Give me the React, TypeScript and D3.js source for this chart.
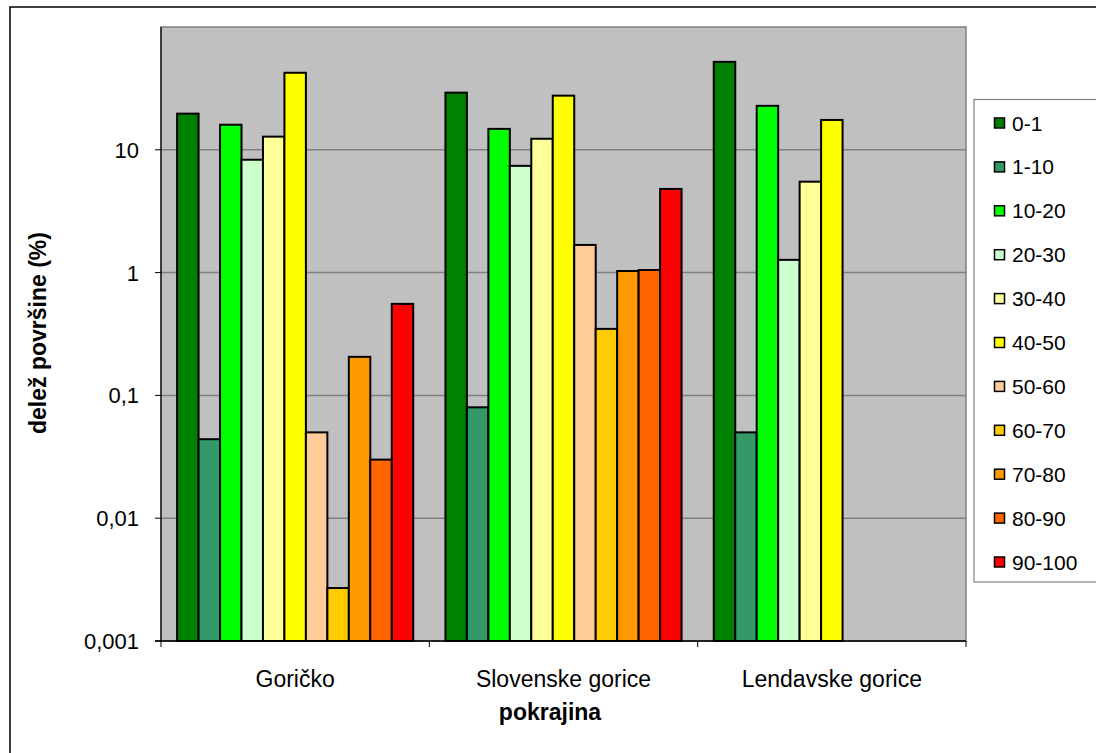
import React from "react";
import * as d3 from "d3";

const regions = ["Goričko", "Slovenske gorice", "Lendavske gorice"];
const classes = ["0-1", "1-10", "10-20", "20-30", "30-40", "40-50", "50-60", "60-70", "70-80", "80-90", "90-100"];
const colors = ["#008000", "#339966", "#00FF00", "#CCFFCC", "#FFFF99", "#FFFF00", "#FFCC99", "#FFCC00", "#FF9900", "#FF6600", "#FF0000"];

// share per class, one array per region (null = no bar)
const goricko = [19.7, 0.044, 16, 8.3, 12.8, 42.4, 0.05, 0.0027, 0.206, 0.03, 0.556];
const slovenske = [29.2, 0.08, 14.8, 7.4, 12.3, 27.6, 1.68, 0.348, 1.03, 1.05, 4.8];
const lendavske = [52, 0.05, 22.8, 1.27, 5.5, 17.5, null, null, null, null, null];

const yTicks = [0.001, 0.01, 0.1, 1, 10];
const yTickLabels = ["0,001", "0,01", "0,1", "1", "10"];

const W = 1096, H = 753;
const plot = { left: 161, top: 27, right: 966, bottom: 641 };
const FONT = "'Liberation Sans', Arial, sans-serif";

export default function App() {
  const values = [goricko, slovenske, lendavske];

  const x0 = d3.scaleBand().domain(regions).range([plot.left, plot.right]);
  const x1 = d3.scaleBand().domain(classes).range([0, x0.bandwidth()]).paddingInner(0).paddingOuter(0.75);
  const y = d3.scaleLog().domain([0.001, 100]).range([plot.bottom, plot.top]);
  const color = d3.scaleOrdinal<string, string>().domain(classes).range(colors);

  const boundaries = [...regions.map((r) => x0(r) as number), plot.right];

  const legendX = 974, legendTop = 99.5, legendBottom = 582;
  const rowY = (i: number) => 123 + i * 43.9;

  return (
    <svg width={W} height={H} style={{ position: "absolute", left: 0, top: 0, background: "#fff" }}>
      {/* outer chart frame */}
      <rect x={10} y={7} width={W} height={H} fill="#fff" stroke="#000" strokeWidth={1.5} />

      {/* plot area */}
      <rect x={plot.left} y={plot.top} width={plot.right - plot.left} height={plot.bottom - plot.top} fill="#C0C0C0" stroke="#808080" strokeWidth={1.5} />
      {yTicks.map((t) => (
        <line key={"g" + t} x1={plot.left} x2={plot.right} y1={y(t)} y2={y(t)} stroke="#808080" strokeWidth={1.5} />
      ))}

      {/* bars */}
      {regions.map((r, ri) => (
        <g key={r} transform={`translate(${x0(r)},0)`}>
          {classes.map((c, ci) => {
            const v = values[ri][ci];
            if (v == null) return null;
            return (
              <rect key={c} x={x1(c)} y={y(v)} width={x1.bandwidth()} height={plot.bottom - y(v)} fill={color(c)} stroke="#000" strokeWidth={2} />
            );
          })}
        </g>
      ))}

      {/* axes */}
      <line x1={plot.left} x2={plot.left} y1={plot.top} y2={plot.bottom} stroke="#000" strokeWidth={1.2} />
      <line x1={plot.left - 6} x2={plot.right} y1={plot.bottom} y2={plot.bottom} stroke="#000" strokeWidth={1.5} />
      {yTicks.map((t, i) => (
        <g key={"t" + t}>
          <line x1={plot.left - 6} x2={plot.left} y1={y(t)} y2={y(t)} stroke="#000" strokeWidth={1} />
          <text x={139} y={y(t)} dy="0.36em" textAnchor="end" fontFamily={FONT} fontSize={22}>
            {yTickLabels[i]}
          </text>
        </g>
      ))}
      {boundaries.map((b, i) => (
        <line key={"xb" + i} x1={b} x2={b} y1={plot.bottom} y2={plot.bottom + 6} stroke="#000" strokeWidth={1} />
      ))}
      {regions.map((r) => (
        <text key={"l" + r} x={(x0(r) as number) + x0.bandwidth() / 2} y={687} textAnchor="middle" fontFamily={FONT} fontSize={23}>
          {r}
        </text>
      ))}

      {/* axis titles */}
      <text x={550} y={720} textAnchor="middle" fontFamily={FONT} fontSize={23} fontWeight="bold">
        pokrajina
      </text>
      <text transform={`translate(46,333) rotate(-90)`} textAnchor="middle" fontFamily={FONT} fontSize={23} fontWeight="bold">
        delež površine (%)
      </text>

      {/* legend */}
      <rect x={legendX} y={legendTop} width={W} height={legendBottom - legendTop} fill="#fff" stroke="#808080" strokeWidth={1.2} />
      {classes.map((c, i) => (
        <g key={"lg" + c}>
          <rect x={994.5} y={rowY(i) - 5} width={10} height={10} fill={color(c)} stroke="#000" strokeWidth={1.5} />
          <text x={1012} y={rowY(i)} dy="0.36em" fontFamily={FONT} fontSize={21}>
            {c}
          </text>
        </g>
      ))}
    </svg>
  );
}
